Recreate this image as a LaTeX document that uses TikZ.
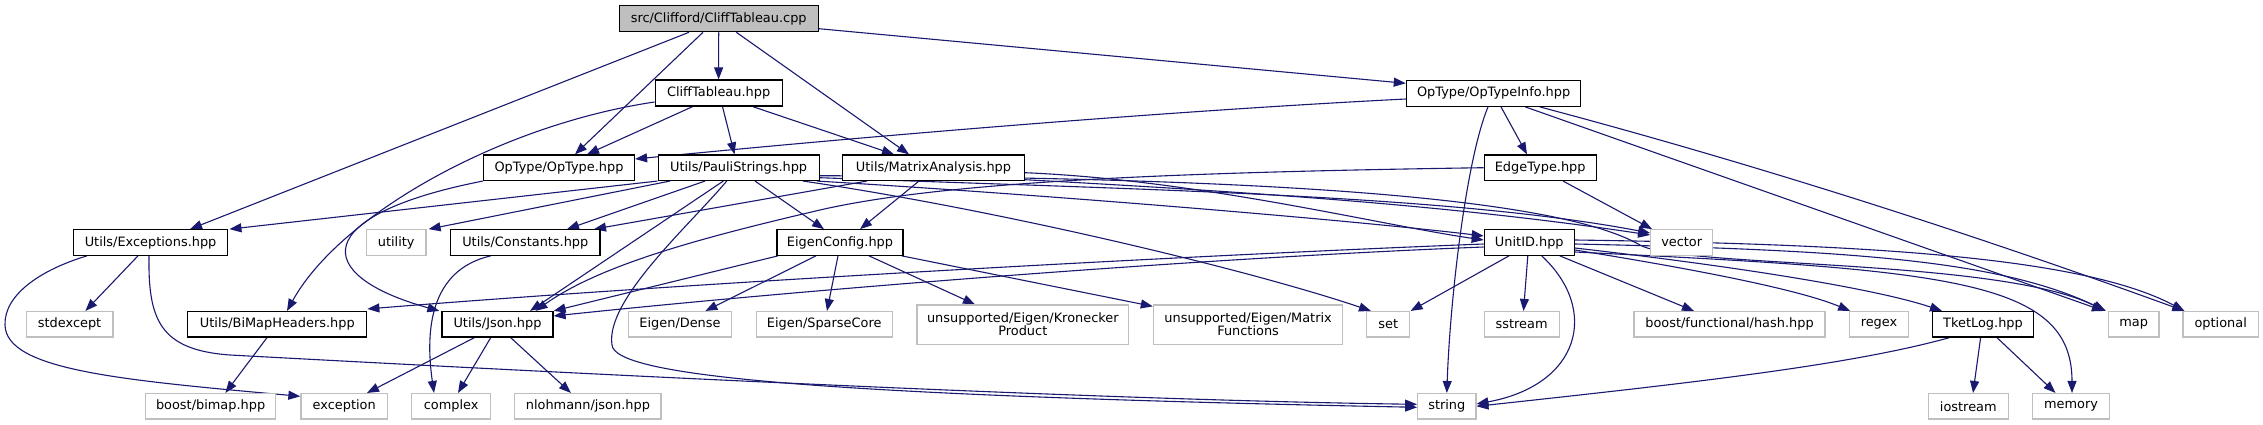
\documentclass[tikz,border=0pt]{standalone}
\usepackage{fontspec}
\setmainfont{DejaVu Sans}
\usetikzlibrary{arrows.meta,backgrounds}
\definecolor{edgeblue}{HTML}{191970}
\definecolor{lgray}{HTML}{BFBFBF}
\tikzset{
  box/.style={draw=black, line width=1.2pt, fill=white, inner sep=0pt,
    minimum height=25.5pt, font=\fontsize{12.9pt}{13pt}\selectfont, text=black},
  ext/.style={box, draw=lgray},
  rootbox/.style={box, fill=lgray},
  e/.style={draw=edgeblue, line width=1.1pt, -{Triangle[length=12pt,width=9pt]}},
}
\begin{document}
\begin{tikzpicture}[x=1pt,y=-1pt]
\useasboundingbox (0,0) rectangle (2263,425);
% row 1
\node[rootbox, minimum width=199pt, minimum height=26pt] (root) at (718.7,18.7) {src/Clifford/CliffTableau.cpp};
% row 2
\node[box, minimum width=127pt, minimum height=26pt] (cth) at (718.6,93) {CliffTableau.hpp};
\node[box, minimum width=174.5pt, minimum height=26pt] (opinfo) at (1493.6,93.3) {OpType/OpTypeInfo.hpp};
% row 3
\node[box, minimum width=151pt] (optype) at (559,167.7) {OpType/OpType.hpp};
\node[box, minimum width=161pt] (pauli) at (738.6,167.7) {Utils/PauliStrings.hpp};
\node[box, minimum width=181.4pt] (matrix) at (933.5,167.7) {Utils/MatrixAnalysis.hpp};
\node[box, minimum width=112pt] (edge) at (1540.2,167.7) {EdgeType.hpp};
% row 4
\node[box, minimum width=154.5pt] (exc) at (150.6,242.5) {Utils/Exceptions.hpp};
\node[ext, minimum width=59.6pt] (utility) at (396.2,242.5) {utility};
\node[box, minimum width=149.3pt] (const) at (525.3,242.5) {Utils/Constants.hpp};
\node[box, minimum width=126pt] (eigen) at (840,242.5) {EigenConfig.hpp};
\node[box, minimum width=90pt] (unitid) at (1529.3,242.5) {UnitID.hpp};
\node[ext, minimum width=62pt] (vector) at (1681.7,242.5) {vector};
% row 5
\node[ext, minimum width=86.8pt] (stdexcept) at (69.6,324.3) {stdexcept};
\node[box, minimum width=179pt] (bimaph) at (277.3,324.3) {Utils/BiMapHeaders.hpp};
\node[box, minimum width=111pt] (json) at (497.5,324.3) {Utils/Json.hpp};
\node[ext, minimum width=102.5pt] (dense) at (680,324.3) {Eigen/Dense};
\node[ext, minimum width=136pt] (sparse) at (824.2,324.3) {Eigen/SparseCore};
\node[ext, minimum width=211.5pt, minimum height=39.3pt, align=center] (kron) at (1022.8,324.6) {unsupported/Eigen/Kronecker\\Product};
\node[ext, minimum width=189.4pt, minimum height=39.3pt, align=center] (mfun) at (1248.1,324.6) {unsupported/Eigen/Matrix\\Functions};
\node[ext, minimum width=43pt] (set) at (1388.2,324.3) {set};
\node[ext, minimum width=75pt] (sstream) at (1521.6,324.3) {sstream};
\node[ext, minimum width=191pt] (hash) at (1729.5,324.3) {boost/functional/hash.hpp};
\node[ext, minimum width=58.5pt] (regex) at (1879,324.3) {regex};
\node[box, minimum width=101.3pt] (tket) at (1983,324.3) {TketLog.hpp};
\node[ext, minimum width=50.4pt] (map) at (2133.7,324.3) {map};
\node[ext, minimum width=75.4pt] (optional) at (2220.7,324.3) {optional};
% row 6
\node[ext, minimum width=130.5pt] (bimap) at (210.6,406.3) {boost/bimap.hpp};
\node[ext, minimum width=86.5pt] (exception) at (344.2,406.3) {exception};
\node[ext, minimum width=79.2pt] (complex) at (451.1,406.3) {complex};
\node[ext, minimum width=146.3pt] (nlohmann) at (587.9,406.3) {nlohmann/json.hpp};
\node[ext, minimum width=58.2pt] (string) at (1446.8,406.3) {string};
\node[ext, minimum width=80pt] (iostream) at (1968.3,406.3) {iostream};
\node[ext, minimum width=77pt] (memory) at (2071,406.3) {memory};

\begin{scope}[on background layer]
\fill[white] (0,0) rectangle (2263,425);
% root
\draw[e] ([xshift=-29.7pt]root.south) -- ([xshift=39.4pt]exc.north);
\draw[e] (root.south) -- (cth.north);
\draw[e] ([xshift=-15.7pt]root.south) -- ([xshift=16pt]optype.north);
\draw[e] ([xshift=17.6pt]root.south) -- ([xshift=-24.5pt]matrix.north);
\draw[e] ([yshift=-10pt]root.east) -- ([yshift=10pt]opinfo.west);
% CliffTableau.hpp
\draw[e] ([xshift=-25.9pt]cth.south) -- ([xshift=28pt]optype.north);
\draw[e] ([xshift=3.9pt]cth.south) -- ([xshift=-4.1pt]pauli.north);
\draw[e] ([xshift=34.1pt]cth.south) -- ([xshift=-39.5pt]matrix.north);
\draw[e] ([yshift=-9pt]cth.west) .. controls (500,125) and (340,215) .. ([xshift=9.7pt]bimaph.north);
% OpTypeInfo
\draw[e] ([yshift=-5.7pt]opinfo.west) .. controls (1150,112) and (850,138) .. ([yshift=8.7pt]optype.east);
\draw[e] ([xshift=7.4pt]opinfo.south) -- ([xshift=-13.2pt]edge.north);
\draw[e] ([xshift=-5.6pt]opinfo.south) .. controls (1466,160) and (1450,300) .. (string.north);
\draw[e] ([xshift=31.7pt]opinfo.south) -- ([xshift=-4pt]map.north west);
\draw[e] ([xshift=46.2pt]opinfo.south) .. controls (1755,164) and (1970,233) .. ([xshift=2pt]optional.north west);
% OpType
\draw[e] (optype.south west) .. controls (310,215) and (310,275) .. ([xshift=-2pt]json.north west);
% PauliStrings
\draw[e] (pauli.south west) -- ([xshift=1pt]exc.north east);
\draw[e] ([xshift=-68.6pt]pauli.south) -- ([xshift=2pt]utility.north east);
\draw[e] ([xshift=-33.6pt]pauli.south) -- ([xshift=41.7pt]const.north);
\draw[e] ([xshift=-15.3pt]pauli.south) -- ([xshift=32.5pt]json.north);
\draw[e] ([xshift=-11.9pt]pauli.south) .. controls (690,225) and (605,300) .. (612,345) .. controls (615,375) and (800,395) .. ([yshift=-1pt]string.west);
\draw[e] ([xshift=16.4pt]pauli.south) -- ([xshift=-16pt]eigen.north);
\draw[e] ([xshift=64.4pt]pauli.south) .. controls (1000,210) and (1250,270) .. ([xshift=-17.2pt]set.north);
\draw[e] ([xshift=78.4pt]pauli.south) .. controls (1050,195) and (1350,220) .. ([yshift=6.5pt]unitid.west);
\draw[e] ([yshift=-10pt]pauli.east) .. controls (1150,190) and (1450,195) .. ([yshift=9.5pt]vector.west);
\draw[e] ([yshift=-8pt]pauli.east) .. controls (1350,178) and (1570,205) .. (1640,245) .. controls (1680,268) and (2000,258) .. ([xshift=-3pt]map.north west);
% MatrixAnalysis
\draw[e] ([xshift=-66.5pt]matrix.south) -- ([xshift=68.7pt]const.north);
\draw[e] ([xshift=-14.5pt]matrix.south) -- ([xshift=20pt]eigen.north);
\draw[e] ([yshift=-5pt]matrix.east) .. controls (1200,180) and (1380,225) .. ([yshift=2.5pt]unitid.west);
\draw[e] ([yshift=-12pt]matrix.east) .. controls (1250,192) and (1450,205) .. ([yshift=7.5pt]vector.west);
% EdgeType
\draw[e] (edge.west) .. controls (1200,172) and (950,180) .. (820,210) .. controls (700,238) and (600,265) .. ([xshift=38pt]json.north);
\draw[e] ([xshift=22.8pt]edge.south) -- ([xshift=2pt]vector.north west);
% Exceptions
\draw[e] ([xshift=-12.6pt]exc.south) -- ([xshift=15.8pt]stdexcept.north);
\draw[e] ([xshift=-63.6pt]exc.south) .. controls (40,270) and (4,295) .. (5,325) .. controls (6,370) and (120,380) .. ([yshift=10pt]exception.west);
\draw[e] ([xshift=-1.6pt]exc.south) .. controls (148,320) and (160,350) .. (230,355) .. controls (600,375) and (1100,400) .. ([yshift=2pt]string.west);
% Constants
\draw[e] ([xshift=-34.6pt]const.south) .. controls (430,270) and (425,330) .. ([xshift=-17.1pt]complex.north);
% EigenConfig
\draw[e] ([xshift=-24pt]eigen.south) -- ([xshift=25.4pt]dense.north);
\draw[e] ([xshift=-2pt]eigen.south) -- ([xshift=2.8pt]sparse.north);
\draw[e] ([xshift=29pt]eigen.south) -- ([xshift=-47.8pt]kron.north);
\draw[e] ([xshift=61.7pt]eigen.south) -- ([yshift=-2pt]mfun.north west);
\draw[e] ([xshift=-62pt]eigen.south) -- (json.north east);
% UnitID
\draw[e] ([yshift=-1.5pt]unitid.west) .. controls (1200,255) and (700,282) .. ([yshift=2pt]bimaph.north east);
\draw[e] ([yshift=-4.5pt]unitid.west) .. controls (1200,258) and (800,290) .. ([yshift=8.3pt]json.east);
\draw[e] ([xshift=-20.3pt]unitid.south) -- ([xshift=0.3pt]set.north east);
\draw[e] ([xshift=-1.5pt]unitid.south) -- ([xshift=1.9pt]sstream.north);
\draw[e] ([xshift=12.4pt]unitid.south) .. controls (1600,310) and (1580,385) .. ([yshift=2.3pt]string.east);
\draw[e] ([xshift=30.5pt]unitid.south) -- ([xshift=-35.5pt]hash.north);
\draw[e] ([yshift=-7.5pt]unitid.east) .. controls (1700,270) and (1800,290) .. ([xshift=1pt]regex.north west);
\draw[e] ([yshift=-5.5pt]unitid.east) .. controls (1750,268) and (1880,290) .. ([xshift=-41pt]tket.north);
\draw[e] ([yshift=-1.5pt]unitid.east) .. controls (1850,250) and (2000,260) .. ([xshift=-2pt]map.north west);
\draw[e] ([yshift=2.5pt]unitid.east) .. controls (1850,244) and (2080,255) .. ([xshift=2pt]optional.north west);
\draw[e] ([yshift=-9.5pt]unitid.east) .. controls (1950,270) and (2072,280) .. ([xshift=1pt]memory.north);
% Json
\draw[e] ([xshift=-23.1pt]json.south) -- ([xshift=22.8pt]exception.north);
\draw[e] ([xshift=-6.8pt]json.south) -- ([xshift=6.9pt]complex.north);
\draw[e] ([xshift=13.2pt]json.south) -- ([xshift=-17pt]nlohmann.north);
% BiMapHeaders
\draw[e] ([xshift=-10.3pt]bimaph.south) -- ([xshift=14.8pt]bimap.north);
% TketLog
\draw[e] ([xshift=-33.5pt]tket.south) .. controls (1850,365) and (1700,382) .. (string.east);
\draw[e] ([xshift=-2.4pt]tket.south) -- ([xshift=4.7pt]iostream.north);
\draw[e] ([xshift=14pt]tket.south) -- ([xshift=-15.5pt]memory.north);
\end{scope}
\end{tikzpicture}
\end{document}
